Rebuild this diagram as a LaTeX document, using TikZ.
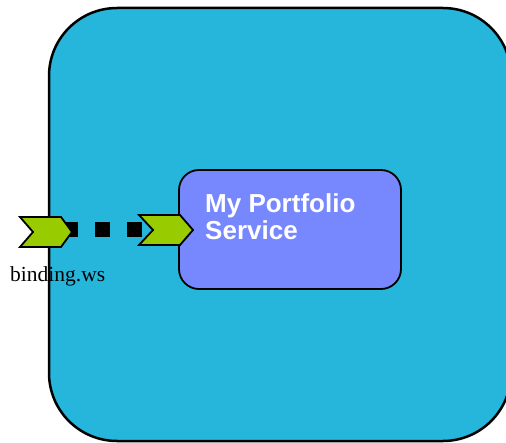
\documentclass[tikz,border=0pt]{standalone}
\usepackage{fontspec}
\setmainfont{Liberation Serif}
\newfontfamily\arialfont{Liberation Sans}
\definecolor{outerblue}{HTML}{26B6DC}
\definecolor{svcblue}{HTML}{7788FF}
\definecolor{chevgreen}{HTML}{99CC00}
\begin{document}
\begin{tikzpicture}[x=1pt,y=-1pt,
  composite/.style={draw=black,line width=2.5pt,fill=outerblue,rounded corners=68pt},
  component/.style={draw=black,line width=1.8pt,fill=svcblue,rounded corners=20pt},
  chevron/.style={draw=black,line width=1.8pt,fill=chevgreen,line join=miter},
  wire/.style={line width=15pt,draw=black,dash pattern=on 15pt off 17pt},
  svctext/.style={text=white,font=\arialfont\bfseries\fontsize{26}{27}\selectfont,align=left,anchor=base west,inner sep=0pt},
  lbl/.style={font=\fontsize{21.5}{24}\selectfont,inner sep=0pt,anchor=base west}]
\useasboundingbox (0,0) rectangle (506,443);
\clip (0,0) rectangle (506,443);
\draw[composite] (49,8) rectangle (511,441);
\draw[component] (179,170) rectangle (401,289);
\node[svctext] (svc) at (205,240) {My Portfolio\\Service};
\coordinate (w1) at (63,230);
\coordinate (w2) at (143,230);
\draw[wire] (w1) -- (w2);
\draw[chevron] (20,217) -- (61,217) -- (72,232) -- (61,247) -- (20,247) -- (33,232) -- cycle;
\draw[chevron] (139,215) -- (180,215) -- (193,230) -- (180,245) -- (139,245) -- (153,230) -- cycle;
\node[lbl] (bind) at (10,282) {binding.ws};
\end{tikzpicture}
\end{document}
